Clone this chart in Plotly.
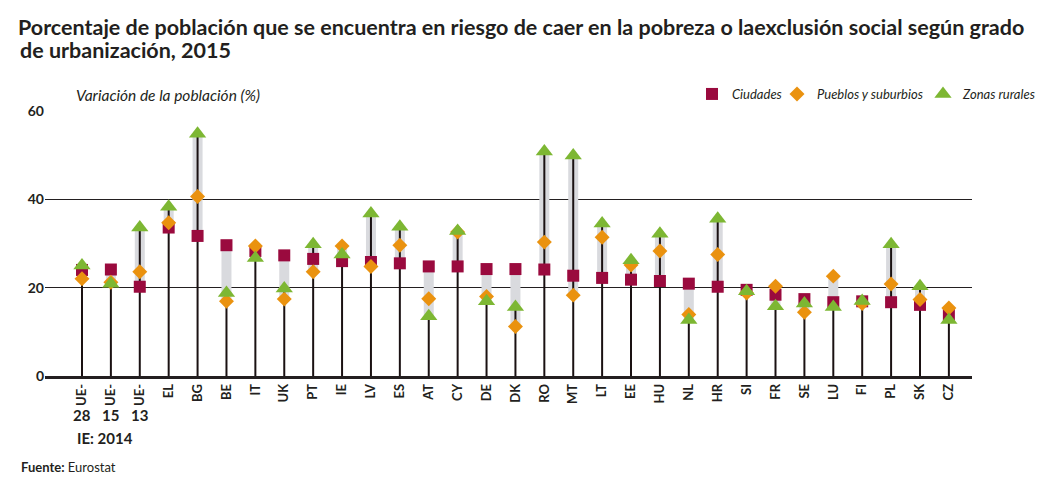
import plotly.graph_objects as go

categories = ["UE-28", "UE-15", "UE-13", "EL", "BG", "BE", "IT", "UK", "PT", "IE", "LV",
              "ES", "AT", "CY", "DE", "DK", "RO", "MT", "LT", "EE", "HU", "NL", "HR",
              "SI", "FR", "SE", "LU", "FI", "PL", "SK", "CZ"]
tick_labels = ["UE-", "UE-", "UE-", "EL", "BG", "BE", "IT", "UK", "PT", "IE", "LV",
               "ES", "AT", "CY", "DE", "DK", "RO", "MT", "LT", "EE", "HU", "NL", "HR",
               "SI", "FR", "SE", "LU", "FI", "PL", "SK", "CZ"]
ciudades = [24.0, 24.1, 20.2, 33.6, 31.7, 29.6, 28.3, 27.3, 26.5, 26.0, 25.8,
            25.5, 24.8, 24.8, 24.2, 24.2, 24.1, 22.7, 22.2, 21.8, 21.5, 20.9, 20.2,
            19.5, 18.4, 17.4, 16.7, 16.9, 16.7, 16.1, 13.9]
pueblos = [22.0, 21.2, 23.6, 34.7, 40.6, 16.9, 29.4, 17.4, 23.6, 29.4, 24.8,
           29.6, 17.5, 32.6, 18.0, 11.2, 30.3, 18.3, 31.4, 25.1, 28.3, 13.9, 27.5,
           18.8, 20.3, 14.4, 22.6, 16.4, 20.8, 17.3, 15.4]
rurales = [25.0, 20.9, 33.6, 38.3, 54.8, 18.8, 26.7, 19.8, 29.8, 27.5, 36.8,
           33.8, 13.5, 32.8, 16.9, 15.6, 50.8, 49.9, 34.5, 26.2, 32.2, 12.7, 35.6,
           19.2, 15.8, 16.4, 15.6, 17.0, 29.8, 20.3, 12.7]
ue_suffix = {"UE-28": "28", "UE-15": "15", "UE-13": "13"}

FONT = "Lato, Open Sans, sans-serif"
DARK = "#231f20"

L, R, T, B = 45, 91, 110, 122
PW, PH = 1063 - L - R, 498 - T - B


def px_x(px):
    return (px - L) / PW


def px_y(py):
    return (498 - B - py) / PH


# gray range band (min to max) and black stem (0 to rural value)
band_x, band_y, stem_x, stem_y = [], [], [], []
for c, a, b, r in zip(categories, ciudades, pueblos, rurales):
    band_x += [c, c, None]
    band_y += [min(a, b, r), max(a, b, r), None]
    stem_x += [c, c, None]
    stem_y += [0, r, None]

fig = go.Figure()
fig.add_trace(go.Scatter(x=band_x, y=band_y, mode="lines",
                         line=dict(color="#d9dade", width=10),
                         showlegend=False, hoverinfo="skip"))
fig.add_trace(go.Scatter(x=stem_x, y=stem_y, mode="lines",
                         line=dict(color="#1a1112", width=2),
                         showlegend=False, hoverinfo="skip"))
fig.add_trace(go.Scatter(x=categories, y=ciudades, mode="markers", name="Ciudades",
                         legend="legend",
                         marker=dict(symbol="square", size=12, color="#9a0a3e")))
fig.add_trace(go.Scatter(x=categories, y=pueblos, mode="markers", name="Pueblos y suburbios",
                         legend="legend2",
                         marker=dict(symbol="diamond", size=11.5, color="#ea920f")))
fig.add_trace(go.Scatter(x=categories, y=rurales, mode="markers", name="Zonas rurales",
                         legend="legend3",
                         marker=dict(symbol="triangle-up", size=15, color="#7db733")))

annotations = []
for c, s in ue_suffix.items():
    annotations.append(dict(x=c, y=px_y(415), xref="x", yref="paper", text=s, showarrow=False,
                            yanchor="middle",
                            font=dict(family=FONT, size=15, color=DARK, weight="bold")))
annotations.append(dict(x=px_x(75), y=px_y(438), xref="paper", yref="paper", text="IE: 2014",
                        showarrow=False, xanchor="left", yanchor="middle",
                        font=dict(family=FONT, size=15, color=DARK, weight="bold")))
annotations.append(dict(x=px_x(74), y=px_y(95), xref="paper", yref="paper",
                        text="Variación de la población (%)", showarrow=False,
                        xanchor="left", yanchor="middle",
                        font=dict(family=FONT, size=15.5, color=DARK, style="italic")))
annotations.append(dict(x=px_x(19), y=px_y(467), xref="paper", yref="paper",
                        text="<b>Fuente:</b> Eurostat", showarrow=False,
                        xanchor="left", yanchor="middle",
                        font=dict(family=FONT, size=13, color=DARK)))
annotations.append(dict(x=px_x(18), y=px_y(50), xref="paper", yref="paper",
                        text="de urbanización, 2015", showarrow=False,
                        xanchor="left", yanchor="middle",
                        font=dict(family=FONT, size=21.5, color=DARK, weight="bold")))

leg_font = dict(family=FONT, size=13, color=DARK, style="italic")
leg_common = dict(orientation="h", yanchor="middle", xanchor="left", y=px_y(94),
                  font=leg_font, bgcolor="rgba(0,0,0,0)", itemwidth=30)

fig.update_layout(
    width=1063, height=498,
    margin=dict(l=L, r=R, t=T, b=B, autoexpand=False),
    paper_bgcolor="white", plot_bgcolor="white",
    title=dict(text="Porcentaje de población que se encuentra en riesgo de caer en la pobreza o laexclusión social según grado",
               x=18 / 1063, xanchor="left", xref="container",
               y=1 - 27 / 498, yanchor="middle", yref="container",
               font=dict(family=FONT, size=21.5, color=DARK, weight="bold")),
    xaxis=dict(type="category", categoryorder="array", categoryarray=categories,
               range=[-1.28, 30.8], tickvals=categories, ticktext=tick_labels,
               tickangle=-90, showgrid=False, showline=True, linecolor=DARK,
               linewidth=2.5, ticks="", zeroline=False,
               tickfont=dict(family=FONT, size=13, color=DARK, weight="bold")),
    yaxis=dict(range=[0, 60.2], tickvals=[0, 20, 40, 60], showgrid=True,
               gridcolor=DARK, gridwidth=1, zeroline=False, showline=False, ticks="",
               tickfont=dict(family=FONT, size=14, color=DARK, weight="bold")),
    legend=dict(x=px_x(692), **leg_common),
    legend2=dict(x=px_x(777), **leg_common),
    legend3=dict(x=px_x(923), **leg_common),
    annotations=annotations,
    showlegend=True,
)

fig.write_html("out.html", post_script="document.body.style.margin='0';",
               config={"displayModeBar": False})
